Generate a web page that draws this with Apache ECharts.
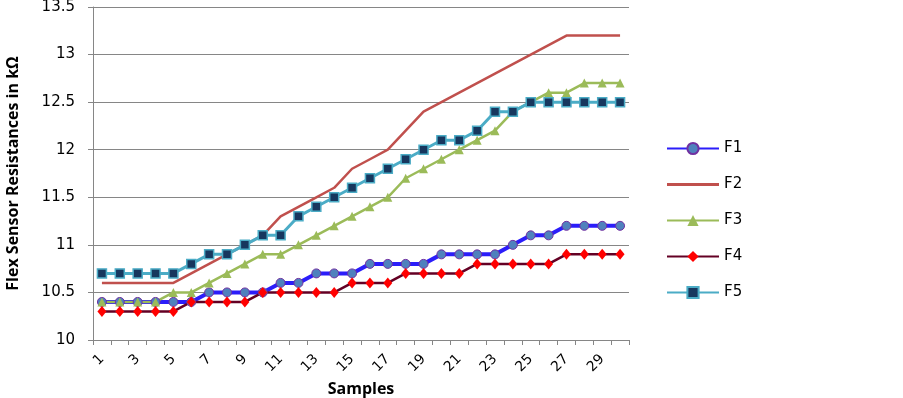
<!DOCTYPE html>
<html>
<head>
<meta charset="utf-8">
<script src="https://cdn.jsdelivr.net/npm/echarts@6/dist/echarts.min.js"></script>
<style>
	html, body { margin: 0; padding: 0; background: #fff; }
	#chart { width: 903px; height: 398px; }
</style>
</head>
<body>
<div id="chart"></div>
<script type="text/javascript">
	var samples = [];
	for (var i = 1; i <= 30; i++) samples.push(String(i));

	var f1 = [10.4,10.4,10.4,10.4,10.4,10.4,10.5,10.5,10.5,10.5,10.6,10.6,10.7,10.7,10.7,10.8,10.8,10.8,10.8,10.9,10.9,10.9,10.9,11.0,11.1,11.1,11.2,11.2,11.2,11.2];
	var f2 = [10.6,10.6,10.6,10.6,10.6,10.7,10.8,10.9,11.0,11.1,11.3,11.4,11.5,11.6,11.8,11.9,12.0,12.2,12.4,12.5,12.6,12.7,12.8,12.9,13.0,13.1,13.2,13.2,13.2,13.2];
	var f3 = [10.4,10.4,10.4,10.4,10.5,10.5,10.6,10.7,10.8,10.9,10.9,11.0,11.1,11.2,11.3,11.4,11.5,11.7,11.8,11.9,12.0,12.1,12.2,12.4,12.5,12.6,12.6,12.7,12.7,12.7];
	var f4 = [10.3,10.3,10.3,10.3,10.3,10.4,10.4,10.4,10.4,10.5,10.5,10.5,10.5,10.5,10.6,10.6,10.6,10.7,10.7,10.7,10.7,10.8,10.8,10.8,10.8,10.8,10.9,10.9,10.9,10.9];
	var f5 = [10.7,10.7,10.7,10.7,10.7,10.8,10.9,10.9,11.0,11.1,11.1,11.3,11.4,11.5,11.6,11.7,11.8,11.9,12.0,12.1,12.1,12.2,12.4,12.4,12.5,12.5,12.5,12.5,12.5,12.5];

	var font = '"DejaVu Sans", sans-serif';
	var nameFont = '"Open Sans", sans-serif';
	var chart = echarts.init(document.getElementById('chart'), null, {renderer: 'canvas'});
	var option = {
		animation: false,
		textStyle: { fontFamily: font },
		legend: {
			orient: 'vertical',
			left: 661,
			top: 136,
			itemWidth: 52,
			itemHeight: 14,
			itemGap: 21,
			textStyle: { fontSize: 15, color: '#000', fontFamily: font, lineHeight: 14 },
			data: ['F1', {name: 'F2', icon: 'path://M0,0h54v3h-54z'}, 'F3', 'F4', 'F5']
		},
		grid: {
			left: 93,
			right: 274,
			top: 7,
			bottom: 58,
			outerBoundsMode: 'none',
			containLabel: false
		},
		xAxis: {
			type: 'category',
			boundaryGap: true,
			data: samples,
			name: 'Samples',
			nameLocation: 'middle',
			nameGap: 40,
			nameTextStyle: { fontSize: 16, fontWeight: 'bold', color: '#000', fontFamily: nameFont },
			axisLine: { lineStyle: { color: '#868686' } },
			axisTick: { show: true, alignWithLabel: false, interval: 0, length: 5, lineStyle: { color: '#868686' } },
			axisLabel: { interval: 1, rotate: 45, fontSize: 14, color: '#000', margin: 17 }
		},
		yAxis: {
			type: 'value',
			min: 10,
			max: 13.5,
			interval: 0.5,
			name: 'Flex Sensor Resistances in kΩ',
			nameLocation: 'middle',
			nameGap: 72,
			nameTextStyle: { fontSize: 16, fontWeight: 'bold', color: '#000', fontFamily: nameFont },
			axisLine: { show: true, lineStyle: { color: '#868686' } },
			axisTick: { show: true, length: 5, lineStyle: { color: '#868686' } },
			axisLabel: { fontSize: 15, color: '#000', margin: 18 },
			splitLine: { lineStyle: { color: '#868686', width: 1 } }
		},
		series: [
			{
				name: 'F1', type: 'line', data: f1,
				symbol: 'circle', symbolSize: 9,
				lineStyle: { color: '#2b1dfa', width: 4 },
				itemStyle: { color: '#4f81bd', borderColor: '#7030a0', borderWidth: 1 }
			},
			{
				name: 'F2', type: 'line', data: f2,
				symbol: 'none', showSymbol: false,
				lineStyle: { color: '#c0504d', width: 2.5 },
				itemStyle: { color: '#c0504d' }
			},
			{
				name: 'F3', type: 'line', data: f3,
				symbol: 'triangle', symbolSize: 9,
				lineStyle: { color: '#9bbb59', width: 2.5 },
				itemStyle: { color: '#9bbb59' }
			},
			{
				name: 'F4', type: 'line', data: f4,
				symbol: 'diamond', symbolSize: [9, 11],
				lineStyle: { color: '#640024', width: 2.5 },
				itemStyle: { color: '#ff0000' }
			},
			{
				name: 'F5', type: 'line', data: f5,
				symbol: 'rect', symbolSize: 9,
				lineStyle: { color: '#4bacc6', width: 3 },
				itemStyle: { color: '#17375e', borderColor: '#4bacc6', borderWidth: 1.5 }
			}
		]
	};
	chart.setOption(option);
	window.onresize = function() {
		chart.resize();
	};
</script>
</body>
</html>
